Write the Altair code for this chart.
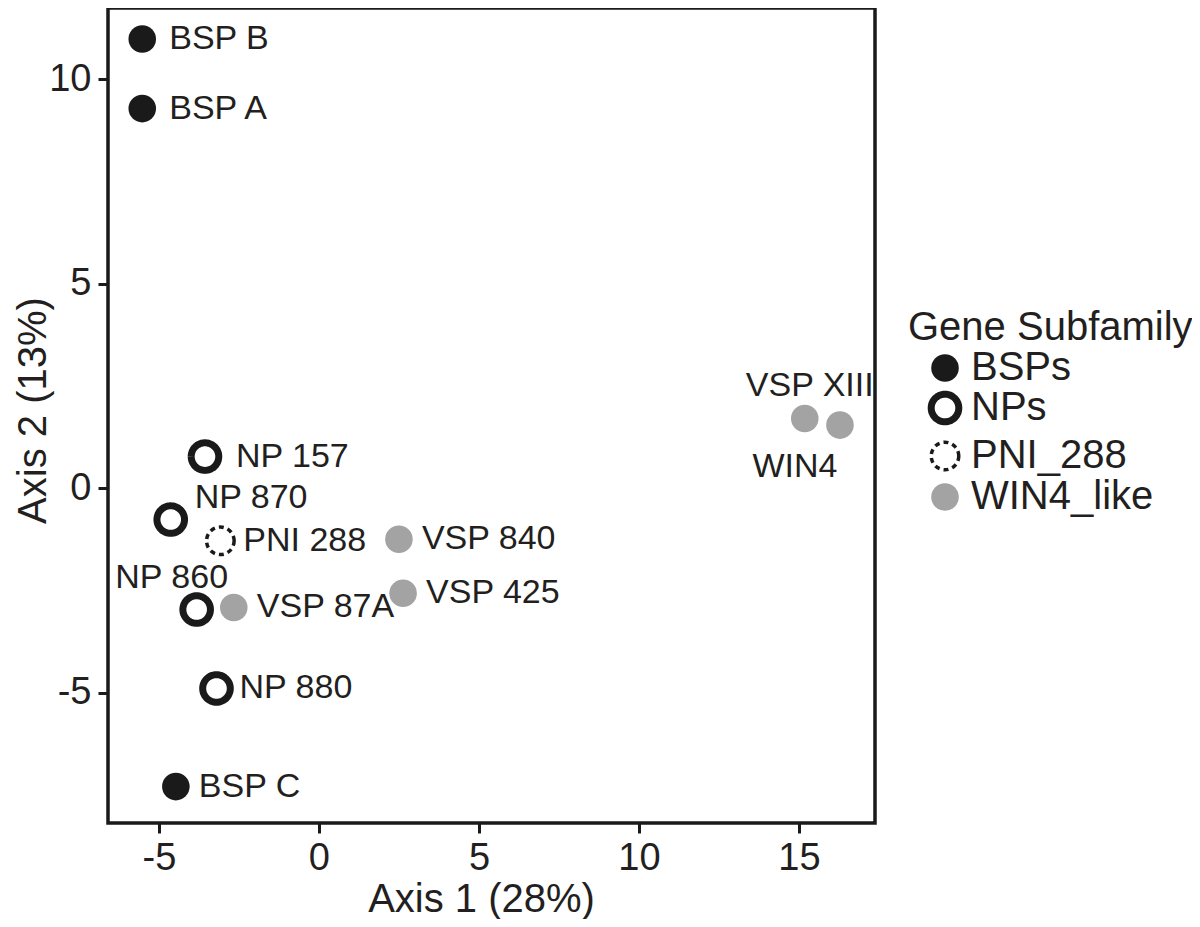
import altair as alt
import pandas as pd

names = ["BSP B", "BSP A", "BSP C", "NP 157", "NP 870", "NP 860", "NP 880",
         "PNI 288", "VSP 87A", "VSP 840", "VSP 425", "VSP XIII", "WIN4"]
axis1 = [-5.52, -5.52, -4.47, -3.56, -4.63, -3.82, -3.20,
         -3.08, -2.66, 2.50, 2.63, 15.18, 16.28]
axis2 = [10.98, 9.28, -7.30, 0.77, -0.77, -2.97, -4.90,
         -1.29, -2.92, -1.25, -2.57, 1.70, 1.54]
groups = ["BSPs", "BSPs", "BSPs", "NPs", "NPs", "NPs", "NPs",
          "PNI_288", "WIN4_like", "WIN4_like", "WIN4_like", "WIN4_like", "WIN4_like"]
group_order = ["BSPs", "NPs", "PNI_288", "WIN4_like"]
x_ticks = [-5, 0, 5, 10, 15]
y_ticks = [-5, 0, 5, 10]

df = pd.DataFrame({"name": names, "ax1": axis1, "ax2": axis2, "group": groups})

FONT = "Liberation Sans"
INK = "#231f20"
BLACK = "#1a1a1a"
GRAY = "#a3a3a3"
TITLE = "Gene Subfamily"

order_js = "[" + ",".join("'%s'" % g for g in group_order) + "]"
cuts = [i + 0.5 for i in range(len(group_order) - 1)]

xs = alt.X("ax1:Q", title="Axis 1 (28%)",
           scale=alt.Scale(domain=[-6.59, 17.375], nice=False, zero=False),
           axis=alt.Axis(values=x_ticks, labelPadding=6, labelExpr="'' + datum.value",
                         titleX=373, titleY=88, titleBaseline="alphabetic"))
ys = alt.Y("ax2:Q", title="Axis 2 (13%)",
           scale=alt.Scale(domain=[-8.19, 11.74], nice=False, zero=False),
           axis=alt.Axis(values=y_ticks, labelPadding=7, labelExpr="'' + datum.value",
                         titleX=-63, titleY=402, titleBaseline="alphabetic"))

def thr(rng):
    return alt.Scale(type="threshold", domain=cuts, range=rng)

points = alt.Chart(df).transform_calculate(
    code="indexof(%s, datum.group)" % order_js
).mark_circle(size=760, opacity=1).encode(
    x=xs, y=ys,
    fill=alt.Fill("code:Q", title=TITLE,
                  scale=thr([BLACK, "white", "white", GRAY]),
                  legend=alt.Legend(orient="none", legendX=800, legendY=300,
                                    labelExpr="%s[datum.index]" % order_js,
                                    symbolType="circle", symbolSize=760,
                                    symbolOffset=17, labelOffset=6,
                                    titlePadding=0, rowPadding=-8,
                                    titleLimit=400, labelLimit=300)),
    stroke=alt.Stroke("code:Q", title=TITLE,
                      scale=thr([BLACK, BLACK, BLACK, GRAY])),
    strokeDash=alt.StrokeDash("code:Q", title=TITLE,
                              scale=thr([[1, 0], [1, 0], [5, 4], [1, 0]])),
    strokeWidth=alt.StrokeWidth("code:Q", title=TITLE,
                                scale=thr([0, 7, 3.5, 0])),
)

def labels(sel, align="left", dx=24, dy=0):
    return alt.Chart(df).transform_filter(
        alt.FieldOneOfPredicate(field="name", oneOf=sel)
    ).mark_text(align=align, baseline="middle", dx=dx, dy=dy,
                font=FONT, fontSize=34, color=INK).encode(
        x=xs, y=ys, text="name:N")

right_a = labels(["BSP B", "BSP A"], dx=27)
right_b = labels(["PNI 288", "VSP 87A", "NP 880", "BSP C", "VSP 840", "VSP 425"], dx=23)
right_c = labels(["NP 157"], dx=31)
lab_870 = labels(["NP 870"], dx=24, dy=-22)
lab_860 = labels(["NP 860"], align="center", dx=-25, dy=-32)
lab_xiii = labels(["VSP XIII"], align="center", dx=5, dy=-33)
lab_win4 = labels(["WIN4"], align="center", dx=-45, dy=42)

chart = alt.layer(points, right_a, right_b, right_c, lab_870, lab_860, lab_xiii, lab_win4).properties(
    width=767, height=815,
    autosize=alt.AutoSizeParams(type="none"),
    padding={"left": 100, "top": 0, "right": 317, "bottom": 96},
).configure_view(
    stroke=BLACK, strokeWidth=3.5
).configure_axis(
    grid=False, domain=False,
    labelFont=FONT, labelFontSize=38, labelColor=INK,
    titleFont=FONT, titleFontSize=40, titleFontWeight="normal", titleColor=INK,
    tickColor=BLACK, tickWidth=3, tickSize=10,
).configure_legend(
    titleFont=FONT, titleFontSize=40, titleFontWeight="normal", titleColor=INK,
    labelFont=FONT, labelFontSize=40, labelColor=INK,
)

chart.save("out.html", embed_options={"renderer": "svg", "actions": False})
